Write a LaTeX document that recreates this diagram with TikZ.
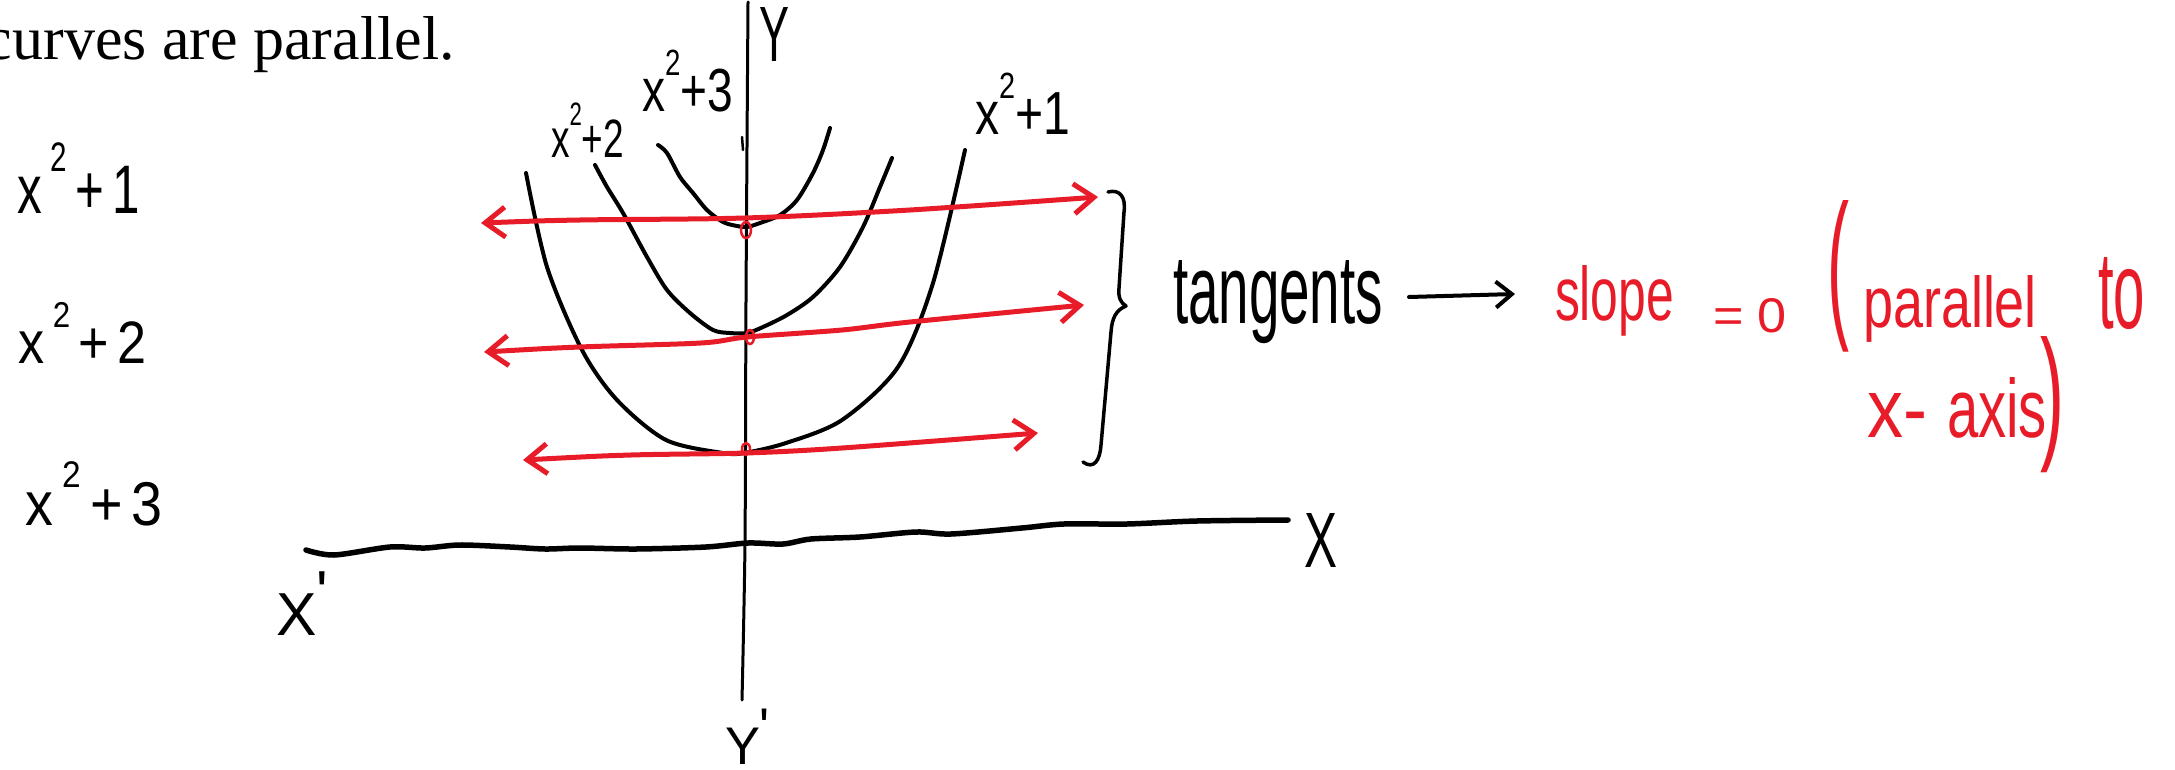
\documentclass[tikz,border=0pt]{standalone}
\usepackage{fontspec}
\setmainfont{Liberation Serif}
\newfontfamily\hand{Liberation Sans}
\usepackage{graphicx}
\usetikzlibrary{arrows.meta}
\definecolor{inkred}{RGB}{232,28,40}
\newcommand\hwbox[3]{\resizebox{#1pt}{#2pt}{\hand\fontsize{50}{50}\selectfont #3}}
\newcommand\sqr{\raisebox{0.6em}{\fontsize{30}{30}\selectfont 2}}
\begin{document}
\begin{tikzpicture}[x=1pt,y=-1pt,
  txt/.style={inner sep=0pt, outer sep=0pt, anchor=base west},
  curve/.style={line width=4pt, line cap=round, line join=round},
  tline/.style={inkred, line width=5pt, line cap=round, line join=round,
    {Straight Barb[length=20pt,width=30pt]}-{Straight Barb[length=20pt,width=30pt]}},
  dotmark/.style={inkred, line width=2.5pt}]
\useasboundingbox[fill=white] (0,0) rectangle (2175,770);

% caption fragment
\node[inner sep=0pt, anchor=base east] (cap) at (455,60) {\fontsize{62}{62}\selectfont curves are parallel.};

% left labels
\node[txt] (c1) at (18,213) {\hwbox{122}{70}{x\,\sqr\,+\,1}};
\node[txt] (c2) at (18,363) {\hwbox{129}{61}{x\,\sqr\,+\,2}};
\node[txt] (c3) at (25,525) {\hwbox{138}{63}{x\,\sqr\,+\,3}};

% axes
\draw[line width=3pt, line cap=round] plot[smooth] coordinates {(748,2) (746,300) (745,541) (742,700)};
\draw[line width=2.5pt, line cap=round] (742,137) -- (743,150);
\draw[line width=5.5pt, line cap=round] plot[smooth] coordinates {(306,550) (334,555) (390,547) (425,548) (460,545) (510,547) (545,549) (580,548) (636,549) (706,547) (748,543) (783,544) (811,539) (860,537) (916,532) (951,534) (1022,528) (1064,524) (1127,524) (1197,521) (1288,520)};
\node[txt] (ylab) at (759,62) {\hwbox{30}{54}{Y}};
\node[txt] (yplab) at (725,764) {\hwbox{45}{55}{Y\raisebox{.35em}{'}}};
\node[txt] (xlab) at (1304,567) {\hwbox{33}{54}{X}};
\node[txt] (xplab) at (276,635) {\hwbox{52}{63}{X\raisebox{.35em}{'}}};

% parabolas
\draw[curve] plot[smooth] coordinates {(658,145) (667,153) (680,177) (693,193) (707,210) (723,222) (737,226) (747,227) (760,223) (780,215) (797,200) (813,173) (823,150) (830,128)};
\draw[curve] plot[smooth] coordinates {(595,165) (607,187) (623,213) (647,257) (667,290) (690,313) (713,330) (730,333) (747,333) (763,327) (787,315) (813,297) (840,267) (863,227) (880,187) (892,158)};
\draw[curve] plot[smooth] coordinates {(526,173) (547,267) (582,350) (617,400) (666,440) (723,453) (744,453) (786,443) (842,420) (898,367) (933,283) (965,150)};
\node[txt] (p3) at (642,112) {\hwbox{91}{62}{x\sqr+3}};
\node[txt] (p2) at (551,158) {\hwbox{73}{55}{x\sqr+2}};
\node[txt] (p1) at (975,135) {\hwbox{95}{62}{x\sqr+1}};

% tangents
\draw[tline] plot[smooth] coordinates {(481,223) (580,220) (745,218) (910,210) (1098,197)};
\draw[tline] plot[smooth] coordinates {(484,352) (580,347) (701,343) (747,337) (842,330) (910,322) (1084,305)};
\draw[tline] plot[smooth] coordinates {(523,460) (631,455) (746,453) (842,448) (1038,433)};
\draw[dotmark] (746,230) ellipse [x radius=5, y radius=8];
\draw[dotmark] (750,337) ellipse [x radius=4, y radius=7];
\draw[dotmark] (746,449) ellipse [x radius=4, y radius=6];

% brace
\draw[line width=3.5pt, line cap=round, line join=round] (1108,192) .. controls (1120,189) and (1126,197) .. (1124,212) -- (1119,288) .. controls (1118,298) and (1121,303) .. (1126,306) .. controls (1116,310) and (1112,318) .. (1111,332) -- (1101,445) .. controls (1100,460) and (1094,470) .. (1083,462);

\node[txt] (tg) at (1173,323) {\hwbox{210}{63}{tangents}};
\coordinate (ta) at (1409,297);
\coordinate (tb) at (1515,294);
\draw[line width=4pt, line cap=round, -{Straight Barb[length=16pt,width=26pt]}] (ta) -- (tb);

% red note
\node[txt,inkred] (s1) at (1555,320) {\hwbox{119}{55}{slope}};
\node[txt,inkred] (s2) at (1713,332) {\hwbox{74}{34}{=\;0}};
\node[txt,inkred] (s3) at (1827,318) {\hwbox{22}{118}{(}};
\node[txt,inkred] (s4) at (1863,327) {\hwbox{174}{52}{parallel}};
\node[txt,inkred] (s5) at (2098,328) {\hwbox{47}{71}{to}};
\node[txt,inkred] (s6) at (1867,437) {\hwbox{60}{44}{x-}};
\node[txt,inkred] (s7) at (1947,437) {\hwbox{100}{60}{axis}};
\node[txt,inkred] (s8) at (2040,442) {\hwbox{24}{106}{)}};
\end{tikzpicture}
\end{document}
